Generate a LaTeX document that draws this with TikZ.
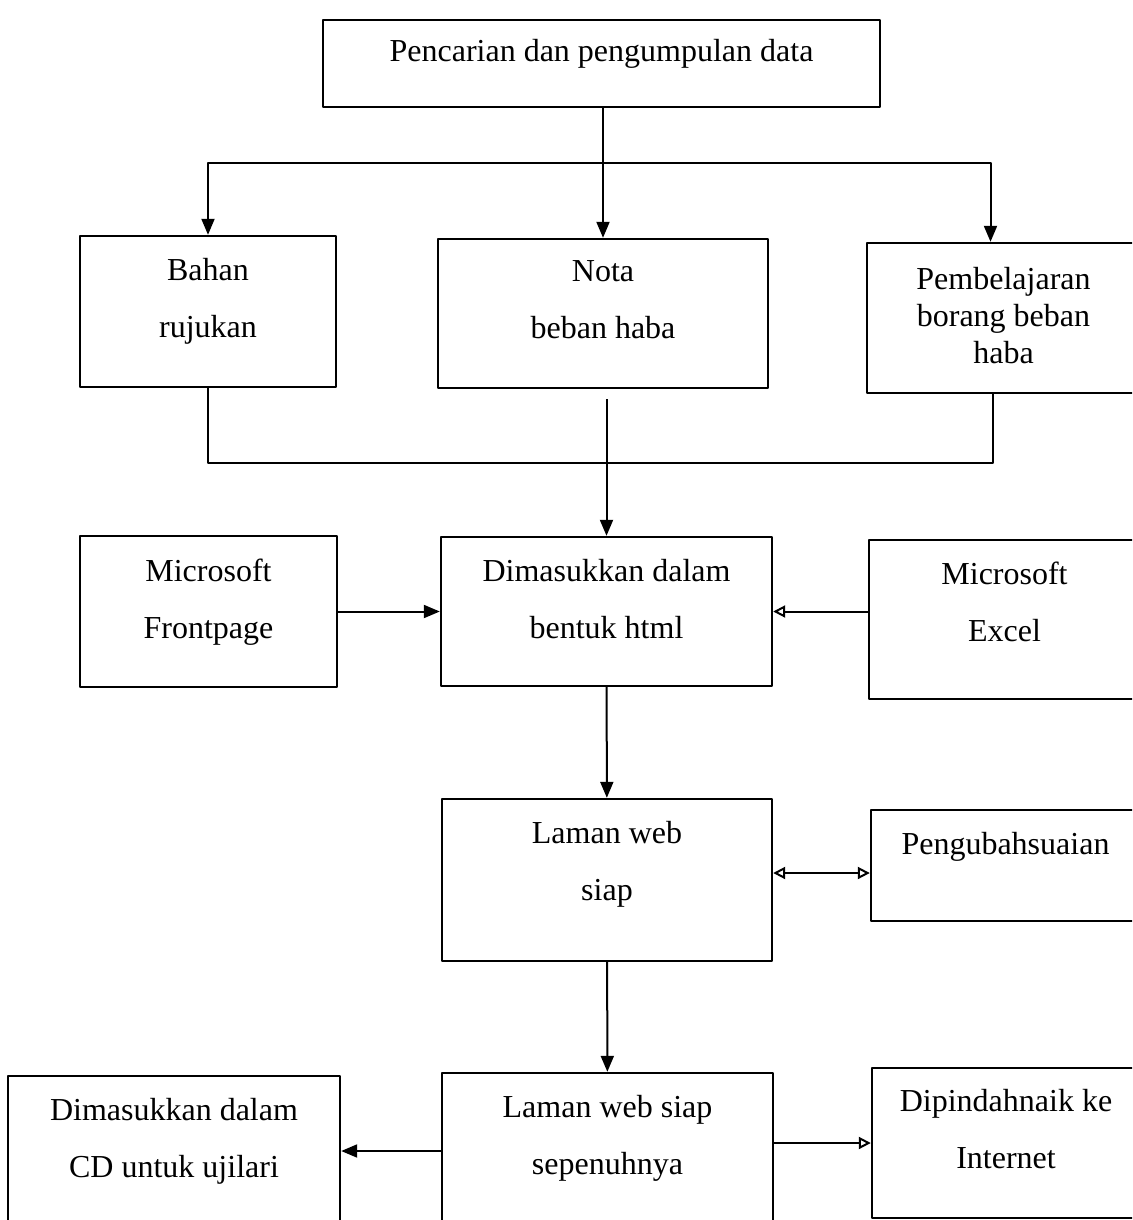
\documentclass[tikz,border=0pt]{standalone}
\usepackage{fontspec}
\setmainfont{Liberation Serif}
\usetikzlibrary{arrows.meta}
\begin{document}
\begin{tikzpicture}[x=0.5pt,y=-0.5pt,>={Triangle[length=8pt,width=6.5pt]},line join=round,
	kotak/.style 2 args={draw,line width=1.2pt,inner sep=0pt,align=center,minimum width=#1*0.5pt,minimum height=#2*0.5pt,font=\fontsize{16}{28.5}\selectfont},
	garis/.style={line width=1pt},
	buka/.style={-{Triangle[open,length=6pt,width=6pt]}},
	bukadua/.style={{Triangle[open,length=6pt,width=6pt]}-{Triangle[open,length=6pt,width=6pt]}}]
	\clip (0,0) rectangle (1132,1220);
	% kotak
	\node[kotak={557}{87},text depth=13pt] (cari) at (601.5,63.5) {Pencarian dan pengumpulan data};
	\node[kotak={256}{151},text depth=13.5pt] (bahan) at (208,311.5) {Bahan\\rujukan};
	\node[kotak={330}{149},text depth=13.5pt] (nota) at (603,313.5) {Nota\\beban haba};
	\node[kotak={273}{150},text depth=3pt,font=\fontsize{16}{18.5}\selectfont] (bel) at (1003.5,318) {Pembelajaran\\borang beban\\haba};
	\node[kotak={257}{151},text depth=12.5pt] (front) at (208.5,611.5) {Microsoft\\Frontpage};
	\node[kotak={331}{149},text depth=12.5pt] (html) at (606.5,611.5) {Dimasukkan dalam\\bentuk html};
	\node[kotak={271}{159},text depth=17.5pt] (excel) at (1004.5,619.5) {Microsoft\\Excel};
	\node[kotak={330}{162},text depth=19.5pt] (laman) at (607,880) {Laman web\\siap};
	\node[kotak={269}{111},text depth=22pt] (ubah) at (1005.5,865.5) {Pengubahsuaian};
	\node[kotak={332}{150},text depth=13.5pt] (cd) at (174,1151) {Dimasukkan dalam\\CD untuk ujilari};
	\node[kotak={331}{156},text depth=16pt] (penuh) at (607.5,1151) {Laman web siap\\sepenuhnya};
	\node[kotak={268}{150},text depth=14pt] (net) at (1006,1143) {Dipindahnaik ke\\Internet};
	% sambungan
	\coordinate (cabang) at (603,163);
	\coordinate (gabung) at (603,463);
	\coordinate (lm) at ([yshift=3.5pt]laman.east);
	\draw[garis,->] (cari.south -| nota.north) -- (nota.north);
	\draw[garis,->] (cabang) -| (bahan.north);
	\draw[garis,->] (cabang) -| ([xshift=-6.5pt]bel.north);
	\draw[garis] (bahan.south) |- (gabung) -| ([xshift=-5.5pt]bel.south);
	\draw[garis,->,shorten <=5pt] (nota.south -| html.north) -- (html.north);
	\draw[garis,->] (front) -- (html);
	\draw[garis,buka] (excel.west |- html.east) -- (html.east);
	\draw[garis,->] (html) -- (laman);
	\draw[garis,bukadua] (lm) -- (lm -| ubah.west);
	\draw[garis,->] (laman) -- (penuh);
	\draw[garis,->] (penuh) -- (cd);
	\draw[garis,buka] (penuh.east |- net.west) -- (net.west);
\end{tikzpicture}
\end{document}
